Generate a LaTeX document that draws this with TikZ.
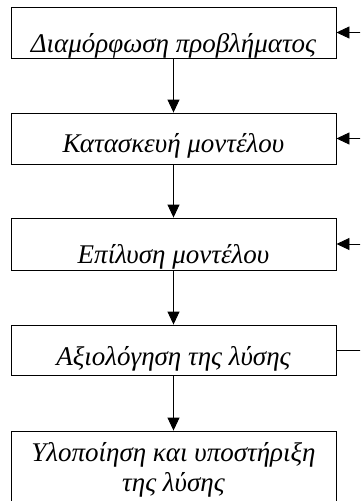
\documentclass[tikz,border=0pt]{standalone}
\usepackage{fontspec}
\setmainfont{Liberation Serif}
\usetikzlibrary{arrows.meta}
\begin{document}
\begin{tikzpicture}[x=1pt,y=-1pt,
  box/.style={draw=black, line width=0.9pt, rectangle, minimum width=325pt, inner sep=0pt},
  lbl/.style={font=\fontsize{27}{30}\selectfont\itshape},
  arr/.style={line width=0.9pt, -{Triangle[length=13pt,width=12pt]}}]
\clip (0,0) rectangle (360,501);
\fill[white] (0,0) rectangle (360,501);
\node[box, minimum height=51pt, label={[lbl,anchor=base,yshift=6pt]south:Διαμόρφωση προβλήματος}] (b1) at (173.5,32.5) {};
\node[box, minimum height=51pt, label={[lbl,anchor=base,yshift=12pt]south:Κατασκευή μοντέλου}] (b2) at (173.5,138.5) {};
\node[box, minimum height=52pt, label={[lbl,anchor=base,yshift=7pt]south:Επίλυση μοντέλου}] (b3) at (173.5,244) {};
\node[box, minimum height=50pt, label={[lbl,anchor=base,yshift=10pt]south:Αξιολόγηση της λύσης}] (b4) at (173.5,350) {};
\node[box, minimum height=90pt, label={[lbl,align=center,anchor=north,yshift=-8pt]north:Υλοποίηση και υποστήριξη\\της λύσης}] (b5) at (173.5,476) {};
\coordinate (r) at (366,0);
\draw[arr] (b1) -- (b2);
\draw[arr] (b2) -- (b3);
\draw[arr] (b3) -- (b4);
\draw[arr] (b4) -- (b5);
\draw[line width=0.9pt] (b4.east) -- (b4.east -| r) -- (b1.east -| r);
\draw[arr] (b1.east -| r) -- (b1.east);
\draw[arr] (b2.east -| r) -- (b2.east);
\draw[arr] (b3.east -| r) -- (b3.east);
\end{tikzpicture}
\end{document}
